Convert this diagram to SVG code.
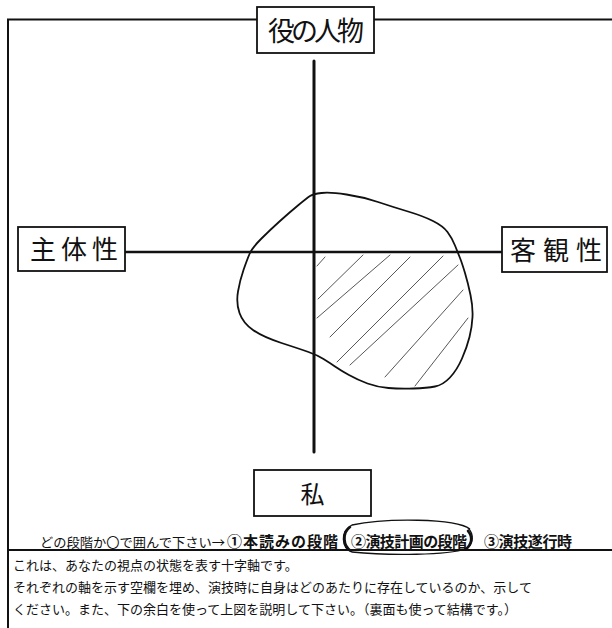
<svg xmlns="http://www.w3.org/2000/svg" width="612" height="628" viewBox="0 0 612 628">
<style>
.bg{fill:#fff}
.frame{fill:none;stroke:#111;stroke-width:2}
.box{fill:#fff;stroke:#111;stroke-width:1.8}
.axis{stroke:#111;stroke-linecap:round;fill:none}
.hand{font-family:"Noto Sans CJK JP","Noto Sans CJK SC",sans-serif;fill:#111}
.print{font-family:"Noto Sans CJK JP","Noto Sans CJK SC",sans-serif;fill:#111;font-size:13px}
.bold{font-family:"Noto Sans CJK JP","Noto Sans CJK SC",sans-serif;fill:#111;font-size:15px;font-weight:bold}
.blob{fill:none;stroke:#111;stroke-width:1.8;stroke-linejoin:round}
.hatch{stroke:#444;stroke-width:0.9;stroke-linecap:round}
</style>
<rect class="bg" x="0" y="0" width="612" height="628"/>
<g id="frame">
<path class="frame" d="M8,628 V19.5 H257 M374,19.5 H612"/>
<line class="frame" x1="8" y1="550" x2="612" y2="550"/>
</g>
<g id="connectors">
<line class="axis" x1="314" y1="61" x2="314" y2="452" stroke-width="3"/>
<line class="axis" x1="125" y1="252" x2="502" y2="252" stroke-width="2.4" stroke-linecap="butt"/>
</g>
<g id="region">
<path class="blob" d="M321.5,193 Q330,192 346.5,194.5 Q363,197 378,202 Q393,207 408,211.5 Q423,216 433,221 Q443,226 447.5,232 Q452,238 455,245.5 Q458,253 460,258 Q462,263 465,273 Q468,283 470.5,295 Q473,307 472.5,317 Q472,327 469.5,337 Q467,347 462,358.5 Q457,370 450,377.5 Q443,385 435,386.5 Q427,388 413.5,388.5 Q400,389 388.5,388 Q377,387 367.5,383.5 Q358,380 349,375 Q340,370 335,366.5 Q330,363 323.5,359 Q317,355 308.5,352 Q300,349 281.5,343 Q263,337 253,330 Q243,323 239.5,313 Q236,303 238,291.5 Q240,280 243.5,270 Q247,260 249.5,254 Q252,248 261,239 Q270,230 280,221 Q290,212 298.5,205 Q307,198 310,196 Q313,194 321.5,193 Z"/>
<g id="hatching">
<line class="hatch" x1="317" y1="266" x2="325" y2="257"/>
<line class="hatch" x1="318" y1="299" x2="363" y2="255"/>
<line class="hatch" x1="317" y1="318" x2="390" y2="255"/>
<line class="hatch" x1="330" y1="337" x2="410" y2="257"/>
<line class="hatch" x1="337" y1="362" x2="443" y2="256"/>
<line class="hatch" x1="350" y1="365" x2="458" y2="265"/>
<line class="hatch" x1="385" y1="377" x2="463" y2="290"/>
<line class="hatch" x1="415" y1="386" x2="468" y2="318"/>
</g>
</g>
<g id="node-top">
<rect class="box" x="257" y="7" width="117" height="46"/>
<text class="hand" x="268" y="41" font-size="27" textLength="96" lengthAdjust="spacing">役の人物</text>
</g>
<g id="node-left">
<rect class="box" x="18" y="227" width="107" height="44"/>
<text class="hand" x="30" y="259" font-size="26" textLength="88" lengthAdjust="spacing">主体性</text>
</g>
<g id="node-right">
<rect class="box" x="502" y="227" width="105" height="45"/>
<text class="hand" x="510" y="260" font-size="26" textLength="92" lengthAdjust="spacing">客観性</text>
</g>
<g id="node-bottom">
<rect class="box" x="254" y="470" width="117" height="46"/>
<text class="hand" x="312.5" y="503" font-size="24" text-anchor="middle">私</text>
</g>
<g id="stage-line">
<text class="print" x="40" y="547" textLength="185" lengthAdjust="spacingAndGlyphs">どの段階か〇で囲んで下さい→</text>
<text class="bold" x="227" y="547" textLength="111" lengthAdjust="spacing">①本読みの段階</text>
<text class="bold" x="351" y="547" textLength="116" lengthAdjust="spacing">②演技計画の段階</text>
<text class="bold" x="484" y="547" textLength="88" lengthAdjust="spacing">③演技遂行時</text>
<path d="M470,529 C455,518 385,518 352,525 C340,531 341,548 352,552 C390,556 448,555 466,549 C474,544 474,534 468,528" fill="none" stroke="#111" stroke-width="1.3"/>
<path d="M350,527 C342,533 343,546 351,551" fill="none" stroke="#111" stroke-width="2.6" stroke-linecap="round"/>
<path d="M468,531 C473,537 472,544 466,549" fill="none" stroke="#111" stroke-width="2.6" stroke-linecap="round"/>
</g>
<g id="instructions">
<text class="print" x="13" y="570" font-size="13.3">これは、あなたの視点の状態を表す十字軸です。</text>
<text class="print" x="13" y="592" font-size="13.3">それぞれの軸を示す空欄を埋め、演技時に自身はどのあたりに存在しているのか、示して</text>
<text class="print" x="13" y="614" font-size="13.3">ください。また、下の余白を使って上図を説明して下さい。（裏面も使って結構です。）</text>
</g>
</svg>
